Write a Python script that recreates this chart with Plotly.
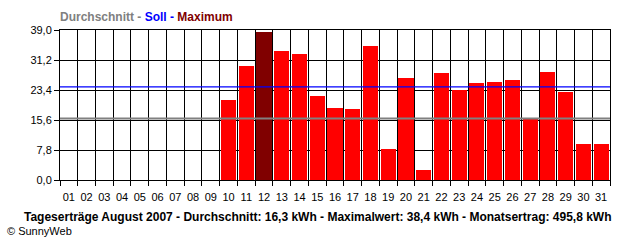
import plotly.graph_objects as go

days = list(range(1, 32))
day_labels = [f"{d:02d}" for d in days]
yields = [0, 0, 0, 0, 0, 0, 0, 0, 0,
          20.8, 29.6, 38.4, 33.5, 32.8, 21.8, 18.7, 18.5, 34.8, 8.1, 26.5,
          2.6, 27.8, 23.4, 25.2, 25.5, 26.0, 15.9, 28.1, 22.9, 9.4, 9.4]
soll = 24.2
durchschnitt = 16.0
y_ticks = [0, 7.8, 15.6, 23.4, 31.2, 39.0]
y_tick_labels = ["0,0", "7,8", "15,6", "23,4", "31,2", "39,0"]

max_val = max(yields)
colors = ["#800000" if v == max_val else "#FF0000" for v in yields]

fig = go.Figure()
fig.add_trace(go.Bar(x=days, y=yields, width=0.85, marker=dict(color=colors, line=dict(width=0)),
                     showlegend=False, hoverinfo="skip"))
fig.add_trace(go.Scatter(x=[0.5, 31.5], y=[soll, soll], mode="lines",
                         line=dict(color="#0000FF", width=1.2), showlegend=False, hoverinfo="skip"))
fig.add_trace(go.Scatter(x=[0.5, 31.5], y=[durchschnitt, durchschnitt], mode="lines",
                         line=dict(color="#808080", width=2), showlegend=False, hoverinfo="skip"))

tick_font = dict(family="Liberation Sans, Arial, sans-serif", size=11, color="black")
fig.update_xaxes(range=[0.5, 31.5], tickmode="array", tickvals=days, ticktext=day_labels,
                 ticks="", showgrid=False, zeroline=False, tickfont=tick_font, ticklabelstandoff=7,
                 showline=True, mirror=True, linecolor="black", linewidth=1,
                 minor=dict(tick0=0.5, dtick=1, showgrid=True, gridcolor="black", gridwidth=1,
                            ticks="outside", ticklen=5, tickcolor="black"))
fig.update_yaxes(range=[0, 39], tickmode="array", tickvals=y_ticks, ticktext=y_tick_labels,
                 ticks="outside", ticklen=5, tickcolor="black", showgrid=True, gridcolor="black",
                 gridwidth=1, zeroline=False, tickfont=tick_font,
                 showline=True, mirror=True, linecolor="black", linewidth=1)

fig.update_layout(
    width=640, height=240, margin=dict(l=60, r=30, t=30, b=60),
    plot_bgcolor="white", paper_bgcolor="white", bargap=0,
    annotations=[
        dict(xref="paper", yref="paper", x=0, y=1, xshift=-2, yshift=4, xanchor="left", yanchor="bottom",
             showarrow=False,
             text="<b><span style='color:#808080'>Durchschnitt - </span><span style='color:#0000FF'>Soll - </span><span style='color:#800000'>Maximum</span></b>",
             font=dict(family="Liberation Sans, Arial, sans-serif", size=12)),
        dict(xref="paper", yref="paper", x=0, y=0, xshift=-38, yshift=-28, xanchor="left", yanchor="top",
             showarrow=False,
             text="<b>Tageserträge August 2007 - Durchschnitt: 16,3 kWh - Maximalwert: 38,4 kWh - Monatsertrag: 495,8 kWh</b>",
             font=dict(family="Liberation Sans, Arial, sans-serif", size=12, color="black")),
        dict(xref="paper", yref="paper", x=0, y=0, xshift=-55, yshift=-43, xanchor="left", yanchor="top",
             showarrow=False, text="© SunnyWeb",
             font=dict(family="Liberation Sans, Arial, sans-serif", size=11, color="black")),
    ],
)

fig.write_html("out.html")
